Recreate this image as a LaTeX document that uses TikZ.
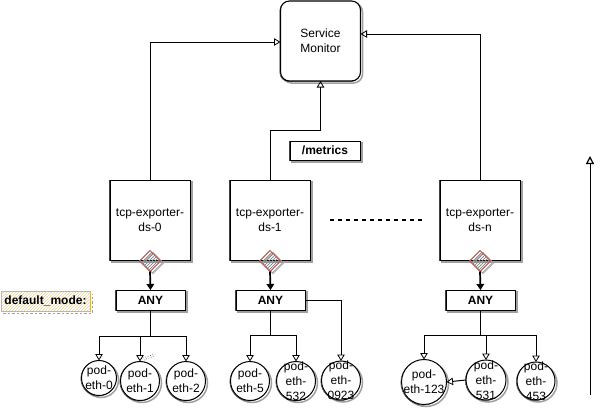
\documentclass[tikz,border=0pt]{standalone}
\usepackage{fontspec}
\setmainfont{Liberation Sans}
\usetikzlibrary{arrows.meta,patterns,calc,shapes.geometric}
\definecolor{softgray}{RGB}{160,160,160}
\definecolor{redline}{RGB}{190,90,86}
\definecolor{goldline}{RGB}{214,182,86}
\tikzset{
  x=1pt,y=-1pt,
  every node/.style={font=\fontsize{12}{15}\selectfont,align=center,inner sep=0pt,outer sep=0pt},
  boxshape/.style={rectangle,draw=black,line width=0.9pt,fill=white},
  sqbox/.style={boxshape,minimum width=80pt,minimum height=80pt},
  monbox/.style={sqbox,rounded corners=9pt,line width=1.1pt},
  anybox/.style={boxshape,minimum width=69pt,minimum height=20pt,font=\fontsize{12}{15}\selectfont\bfseries},
  metricbox/.style={anybox,minimum width=70pt,minimum height=19pt},
  modebox/.style={rectangle,draw=goldline,line width=0.9pt,pattern=north east lines,pattern color=goldline!60,
    minimum width=89pt,minimum height=20pt,font=\fontsize{12}{15}\selectfont\bfseries},
  podc/.style={circle,draw=black,line width=1pt,fill=white},
  ghost/.style={draw=softgray,fill=none,line width=1.5pt},
  ghostline/.style={draw=black!75,fill=none,line width=0.5pt},
  gate/.style={diamond,draw=redline,line width=1pt,pattern=north east lines,pattern color=black!50,minimum width=21pt,minimum height=21pt},
  gateshadow/.style={diamond,draw=softgray,line width=1pt,pattern=north east lines,pattern color=softgray,minimum width=21pt,minimum height=21pt},
  link/.style={draw=black,line width=1pt,-{Triangle[open,length=6.5pt,width=7.5pt,line width=0.8pt]}},
  wire/.style={draw=black,line width=1.6pt},
  thick link/.style={draw=black,line width=1.7pt,-{Triangle[length=6pt,width=7.5pt]}},
}
% sketched node: grey offset copy, thin second stroke, then the node itself
\newcommand\sknode[5]{%
  \node[#1,ghost] (#2shadow) at ($(#3,#4)+(2,2)$) {};
  \node[#1,ghostline] (#2stroke) at ($(#3,#4)+(-0.7,0.6)$) {};
  \node[#1] (#2) at (#3,#4) {#5};
}
% pod text may overflow its circle, as it does in the drawing
\newcommand\podtxt[1]{\makebox[0pt]{\smash{\raisebox{-4pt}{\begin{tabular}{@{}c@{}}#1\end{tabular}}}}}
\begin{document}
\begin{tikzpicture}
\useasboundingbox (0,0) rectangle (600,410);
% main boxes
\sknode{monbox}{sm}{320.5}{41}{Service\\Monitor}
\sknode{sqbox}{ds0}{150}{220}{tcp-exporter-\\ds-0}
\sknode{sqbox}{ds1}{270}{220}{tcp-exporter-\\ds-1}
\sknode{sqbox}{dsn}{480}{220}{tcp-exporter-\\ds-n}
\sknode{metricbox}{metrics}{325}{150.5}{/metrics}
% labels and selectors
\node[modebox] (mode) at (45.5,301) {default\_mode:};
\coordinate (mA) at (3,313.5);
\coordinate (mB) at (92,313.5);
\coordinate (mC) at (92,294);
\draw[draw=softgray,line width=0.9pt,dash pattern=on 2.5pt off 2pt] (mA) -- (mB) -- (mC);
\sknode{anybox}{any0}{150.5}{300}{ANY}
\sknode{anybox}{any1}{270.5}{300}{ANY}
\sknode{anybox}{anyn}{480.5}{300}{ANY}
% gates
\node[gateshadow] (s0) at (153,263) {};
\node[gateshadow] (s1) at (273,263) {};
\node[gateshadow] (sn) at (483,263) {};
\node[gate] (g0) at (150,261) {};
\node[gate] (g1) at (270,261) {};
\node[gate] (gn) at (480,261) {};
% pods
\sknode{podc,minimum width=35pt}{p0}{99}{378}{\podtxt{pod-\\eth-0}}
\sknode{podc,minimum width=39pt}{p1}{140}{381}{\podtxt{pod-\\eth-1}}
\sknode{podc,minimum width=39pt}{p2}{186}{381}{\podtxt{pod-\\eth-2}}
\sknode{podc,minimum width=39pt}{p5}{250}{381}{\podtxt{pod-\\eth-5}}
\sknode{podc,minimum width=39pt}{p532}{296}{381}{\podtxt{pod-\\eth-\\532}}
\sknode{podc,minimum width=39pt}{p923}{341}{380.5}{\podtxt{pod-\\eth-\\0923}}
\sknode{podc,minimum width=45pt}{p123}{424}{382}{\podtxt{pod-\\eth-123}}
\sknode{podc,minimum width=40pt}{p531}{486}{380}{\podtxt{pod-\\eth-\\531}}
\sknode{podc,minimum width=38pt}{p453}{536}{381}{\podtxt{pod-\\eth-\\453}}
% connectors up
\draw[link] (ds0.north) |- ([yshift=-1pt]sm.west);
\coordinate (kink) at (270,130);
\draw[link] (ds1.north) -- (kink) -| (sm.south);
\draw[link] (dsn.north) |- ([yshift=7pt]sm.east);
% gate to any
\draw[thick link] (g0.south) -- (any0.north);
\draw[thick link] (g1.south) -- (any1.north);
\draw[thick link] (gn.south) -- (anyn.north);
% buses
\coordinate (b0) at (150.5,336);
\coordinate (b1) at (270.5,335);
\coordinate (bn) at (480.5,335);
\draw[wire] (any0.south) -- (b0);
\draw[wire] (any1.south) -- (b1);
\draw[wire,line width=1.8pt] (anyn.south) -- (bn);
\draw[link] (b0) -| (p0.north);
\draw[link] (b0) -| (p1.north);
\draw[link] (b0) -| (p2.north);
\draw[link] (b1) -| (p5.north);
\draw[link] (b1) -| (p532.north);
\draw[link] (any1.east) -| (p923.north);
\draw[link] (bn) -| (p123.north);
\draw[link] (bn) -| (p531.north);
\draw[link] (bn) -| (p453.north);
\draw[link] (p531.west) -- (p123.east);
% dotted mark near pod-eth-1
\coordinate (dotA) at (143,358);
\coordinate (dotB) at (155,354);
\draw[dotted,line width=0.5pt] (dotA) -- (dotB);
\coordinate (dotC) at (144,360);
\coordinate (dotD) at (154,356);
\draw[dotted,line width=0.5pt] (dotC) -- (dotD);
% ellipsis line
\coordinate (dashA) at (330,220);
\coordinate (dashB) at (422,220);
\draw[line width=1.3pt,dash pattern=on 4pt off 4pt] (dashA) -- (dashB);
% long arrow
\coordinate (longA) at (590,395);
\coordinate (longB) at (590,156);
\draw[draw=black,line width=0.9pt,-{Triangle[open,length=8pt,width=8pt,line width=1.2pt]}] (longA) -- (longB);
\end{tikzpicture}
\end{document}
